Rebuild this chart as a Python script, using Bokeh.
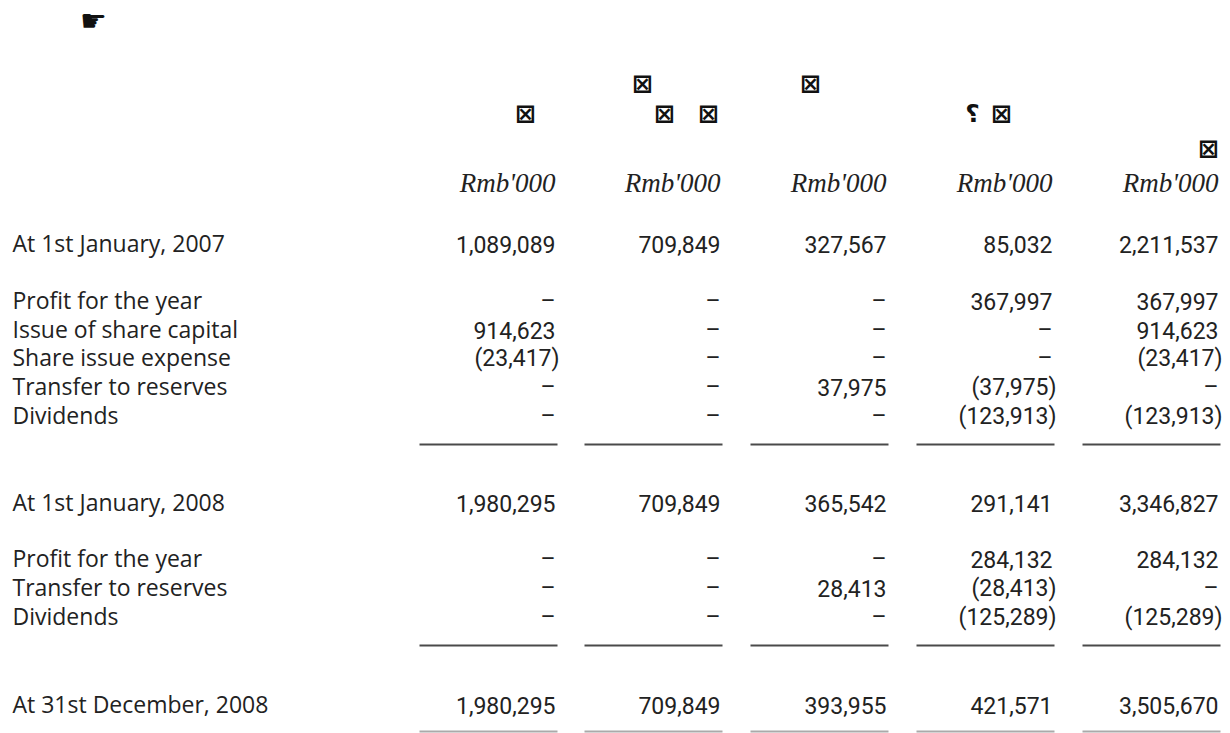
from bokeh.plotting import figure
from bokeh.models import Range1d
from bokeh.embed import file_html
from bokeh.resources import INLINE
from bokeh.core.properties import value

# ---------------- data ----------------
row_labels = [
    "At 1st January, 2007",
    "Profit for the year",
    "Issue of share capital",
    "Share issue expense",
    "Transfer to reserves",
    "Dividends",
    "At 1st January, 2008",
    "Profit for the year",
    "Transfer to reserves",
    "Dividends",
    "At 31st December, 2008",
]
col_share_capital = [1089089, None, 914623, -23417, None, None, 1980295, None, None, None, 1980295]
col_premium = [709849, None, None, None, None, None, 709849, None, None, None, 709849]
col_reserve = [327567, None, None, None, 37975, None, 365542, None, 28413, None, 393955]
col_retained = [85032, 367997, None, None, -37975, -123913, 291141, 284132, -28413, -125289, 421571]
col_total = [2211537, 367997, 914623, -23417, None, -123913, 3346827, 284132, None, -125289, 3505670]
unit_labels = ["Rmb'000", "Rmb'000", "Rmb'000", "Rmb'000", "Rmb'000"]
header_glyph = "\u22a0"   # heading characters that did not render in the source
hook_glyph = "\u2e2e"
corner_glyph = "\u261b"

columns = [col_share_capital, col_premium, col_reserve, col_retained, col_total]

# ---------------- layout ----------------
W, H = 1230, 733
col_right = [555, 720, 886, 1052, 1218]
row_y = [244, 301, 330, 358, 387, 416, 503, 559, 588, 617, 705]
rule_y = [444, 645]
total_rule_y = 731
unit_y = 182

p = figure(width=W, height=H, output_backend="svg", toolbar_location=None,
           x_range=Range1d(0, W), y_range=Range1d(H, 0), min_border=0)
p.axis.visible = False
p.grid.visible = False
p.outline_line_color = None
p.background_fill_color = "white"
p.border_fill_color = "white"

def fmt(v):
    if v is None:
        return "\u2013"
    if v < 0:
        return "({:,})".format(-v)
    return "{:,}".format(v)

# row labels
p.text(x=[12] * len(row_labels), y=[y - 2 for y in row_y], text=row_labels,
       text_font=value("Open Sans"), text_font_size="23px", text_color="#222222",
       text_align="left", text_baseline="middle")

# numbers
xs, ys, ts = [], [], []
for ci, col in enumerate(columns):
    for ri, v in enumerate(col):
        xs.append(col_right[ci] + (4 if (v is not None and v < 0) else 0))
        ys.append(row_y[ri])
        ts.append(fmt(v))
p.text(x=xs, y=ys, text=ts, text_font=value("Roboto"), text_font_size="23px",
       text_color="#222222", text_align="right", text_baseline="middle")

# units
p.text(x=col_right, y=[unit_y] * 5, text=unit_labels,
       text_font=value("Liberation Serif"), text_font_style="italic",
       text_font_size="27px", text_color="#222222",
       text_align="right", text_baseline="middle")

# rules
x0s, x1s, y0s = [], [], []
for ry in rule_y:
    for cr in col_right:
        x0s.append(cr - 136)
        x1s.append(cr + 2)
        y0s.append(ry)
p.segment(x0=x0s, y0=y0s, x1=x1s, y1=y0s, line_color="#4a4a4a", line_width=1.8)
p.segment(x0=[cr - 136 for cr in col_right], y0=[total_rule_y] * 5,
          x1=[cr + 2 for cr in col_right], y1=[total_rule_y] * 5,
          line_color="#aaaaaa", line_width=1.8)

# heading glyphs (characters that did not render in the source)
gx = [642, 810, 525, 664, 708, 1001, 1208]
gy = [83, 83, 113, 113, 113, 113, 148]
p.text(x=gx, y=gy, text=[header_glyph] * len(gx), text_font=value("DejaVu Sans"),
       text_font_size="25px", text_font_style="bold", text_color="#111111",
       text_align="center", text_baseline="middle")
p.text(x=[972], y=[113], text=[hook_glyph], text_font=value("DejaVu Sans"),
       text_font_size="25px", text_font_style="bold", text_color="#111111",
       text_align="center", text_baseline="middle")
p.text(x=[93], y=[20], text=[corner_glyph], text_font=value("DejaVu Sans"),
       text_font_size="30px", text_color="#111111", text_align="center",
       text_baseline="middle")

open("out.html", "w").write(file_html(p, INLINE))
